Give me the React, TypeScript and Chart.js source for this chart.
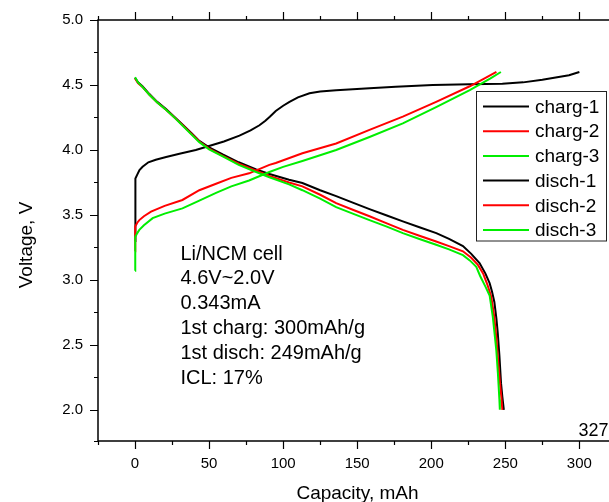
import { useEffect, useRef } from 'react';
import { Chart, registerables } from 'chart.js';

Chart.register(...registerables);

// ---- data (capacity mAh, voltage V) ----
const charg1: [number, number][] = [
  [0, 3.3], [0, 3.75], [0.5, 3.78], [1.5, 3.81], [3, 3.845], [5.1, 3.87], [9, 3.905], [14, 3.925],
  [21, 3.945], [30, 3.97], [41, 4.0], [50, 4.03], [60, 4.065], [70.5, 4.11], [78, 4.15], [84, 4.19],
  [88, 4.225], [91, 4.256], [95, 4.3], [100, 4.34], [104.3, 4.37], [110, 4.405], [117.8, 4.436],
  [125, 4.45], [135.8, 4.46], [158.3, 4.475], [176, 4.487], [201, 4.5], [226, 4.505], [248, 4.51],
  [262, 4.52], [275, 4.54], [285, 4.56], [293, 4.575], [300, 4.6],
];
const charg2: [number, number][] = [
  [0, 3.22], [0, 3.35], [0.3, 3.41], [1.5, 3.44], [2.9, 3.46], [6, 3.49], [10.8, 3.525], [20, 3.57],
  [32, 3.615], [43.4, 3.69], [54.7, 3.74], [65, 3.785], [77, 3.82], [90.7, 3.885], [95, 3.9],
  [113, 3.975], [135.8, 4.05], [158.3, 4.154], [180.8, 4.256], [203.3, 4.37], [226, 4.49],
  [236, 4.55], [244, 4.6],
];
const charg3: [number, number][] = [
  [0, 3.07], [0, 3.2], [0.3, 3.33], [1.5, 3.36], [2.9, 3.385], [6, 3.42], [11.9, 3.475], [20, 3.51],
  [32, 3.55], [43.4, 3.61], [54.7, 3.67], [65, 3.72], [77, 3.765], [90.7, 3.83], [100, 3.87],
  [113, 3.915], [135.8, 4.0], [158.3, 4.1], [180.8, 4.205], [203.3, 4.33], [226, 4.46],
  [240, 4.55], [247, 4.6],
];
const disch1: [number, number][] = [
  [0, 4.555], [2, 4.52], [5, 4.49], [9.7, 4.43], [15, 4.37], [20.9, 4.315], [27, 4.25], [32.2, 4.195],
  [38, 4.13], [43.4, 4.07], [50, 4.02], [59.2, 3.965], [70, 3.905], [81.8, 3.85], [90.7, 3.815],
  [104, 3.77], [113, 3.745], [125, 3.69], [135.8, 3.645], [147, 3.595], [158.3, 3.545], [170, 3.495],
  [180.8, 3.45], [192, 3.405], [203.4, 3.36], [212, 3.315], [221.4, 3.26], [227, 3.2], [232.6, 3.13],
  [236.5, 3.05], [239.4, 2.975], [241, 2.91], [242.6, 2.83], [244, 2.7], [244.9, 2.59], [246, 2.42],
  [247.1, 2.205], [248, 2.1], [249, 2.0],
];
const disch2: [number, number][] = [
  [0, 4.55], [2, 4.515], [5, 4.485], [9.7, 4.425], [15, 4.365], [20.9, 4.31], [27, 4.245], [32.2, 4.19],
  [38, 4.125], [43.4, 4.065], [50, 4.01], [59.2, 3.955], [70, 3.895], [81.8, 3.84], [90.7, 3.8],
  [104, 3.75], [113, 3.72], [125, 3.655], [135.8, 3.59], [147, 3.54], [158.3, 3.49], [170, 3.435],
  [180.8, 3.385], [192, 3.34], [203.3, 3.295], [212, 3.26], [221.4, 3.22], [227, 3.17], [231.5, 3.115],
  [235, 3.05], [238, 2.96], [240.5, 2.87], [242.5, 2.72], [244, 2.55], [245, 2.4], [246.3, 2.22],
  [247.3, 2.1], [248, 2.0],
];
const disch3: [number, number][] = [
  [0, 4.56], [2, 4.52], [5, 4.485], [9.7, 4.425], [15, 4.365], [20.9, 4.31], [27, 4.245], [32.2, 4.185],
  [38, 4.12], [43.4, 4.06], [50, 4.005], [59.2, 3.95], [70, 3.885], [81.8, 3.83], [90.7, 3.79],
  [104, 3.735], [113, 3.69], [125, 3.625], [135.8, 3.56], [147, 3.51], [158.3, 3.46], [170, 3.41],
  [180.8, 3.36], [192, 3.315], [203.3, 3.27], [212, 3.235], [221.4, 3.19], [226, 3.15], [230.4, 3.1],
  [233, 3.03], [236.5, 2.95], [239.4, 2.88], [241.5, 2.72], [243, 2.56], [243.9, 2.46], [245, 2.28],
  [246, 2.08], [246.3, 2.0],
];

const seriesNames = ['charg-1', 'charg-2', 'charg-3', 'disch-1', 'disch-2', 'disch-3'];
const seriesColors = ['#000000', '#ff0000', '#00ee00', '#000000', '#ff0000', '#00ee00'];
const seriesData = [charg1, charg2, charg3, disch1, disch2, disch3];
const seriesOrder = [2, 1, 0, 2, 1, 0];

const noteLines = [
  'Li/NCM cell',
  '4.6V~2.0V',
  '0.343mA',
  '1st charg: 300mAh/g',
  '1st disch: 249mAh/g',
  'ICL: 17%',
];
const cornerLabel = '327';
const xTitle = 'Capacity, mAh';
const yTitle = 'Voltage, V';

const X_MIN = -25;
const X_MAX = 320;
const X_STEP = 25;
const Y_MIN = 1.76;
const Y_MAX = 5.0;
const Y_STEP = 0.25;

const FONT = '"Liberation Sans", Arial, sans-serif';

const decorPlugin = {
  id: 'decor',
  afterDraw(chart: any) {
    const { ctx, chartArea, scales } = chart;
    const xs = scales.x;
    const ys = scales.y;
    const { left, right, top, bottom } = chartArea;
    ctx.save();
    // frame
    ctx.strokeStyle = '#000';
    ctx.lineWidth = 1.5;
    ctx.beginPath();
    ctx.moveTo(right + 2, top);
    ctx.lineTo(left, top);
    ctx.lineTo(left, bottom);
    ctx.lineTo(right + 2, bottom);
    ctx.stroke();
    // ticks
    ctx.lineWidth = 1.2;
    ctx.beginPath();
    for (let v = X_MIN; v <= X_MAX + 1e-9; v += X_STEP) {
      const major = Math.abs(v % 50) < 1e-6;
      const len = major ? 8 : 4;
      const px = Math.round(xs.getPixelForValue(v)) + 0.5;
      ctx.moveTo(px, bottom);
      ctx.lineTo(px, bottom + len);
      ctx.moveTo(px, top);
      ctx.lineTo(px, top - len);
    }
    for (let v = 1.75; v <= Y_MAX + 1e-9; v += Y_STEP) {
      const major = Math.abs((v * 2) - Math.round(v * 2)) < 1e-6;
      const len = major ? 8 : 4;
      let py = ys.getPixelForValue(Math.max(v, Y_MIN));
      py = Math.round(py) + 0.5;
      ctx.moveTo(left, py);
      ctx.lineTo(left - len, py);
    }
    ctx.stroke();

    // legend
    ctx.fillStyle = '#fff';
    ctx.fillRect(477, 92, 130, 149);
    ctx.strokeStyle = '#222';
    ctx.lineWidth = 1;
    ctx.strokeRect(476.5, 91.5, 130, 149.5);
    ctx.font = `19px ${FONT}`;
    ctx.textBaseline = 'middle';
    ctx.textAlign = 'left';
    seriesNames.forEach((name, i) => {
      const y = 106.5 + i * 24.7;
      ctx.strokeStyle = seriesColors[i];
      ctx.lineWidth = 2;
      ctx.beginPath();
      ctx.moveTo(483, y);
      ctx.lineTo(529, y);
      ctx.stroke();
      ctx.fillStyle = '#000';
      ctx.fillText(name, 535, y + 1);
    });

    // notes
    ctx.font = `20px ${FONT}`;
    ctx.textBaseline = 'alphabetic';
    ctx.fillStyle = '#000';
    noteLines.forEach((t, i) => {
      ctx.fillText(t, 180.5, 259.5 + i * 24.9);
    });

    // corner label
    ctx.font = `18px ${FONT}`;
    ctx.textAlign = 'right';
    ctx.fillText(cornerLabel, 608.5, 436);

    // axis titles
    ctx.font = `19px ${FONT}`;
    ctx.textAlign = 'center';
    ctx.fillText(xTitle, 357.5, 499);
    ctx.save();
    ctx.translate(32, 245);
    ctx.rotate(-Math.PI / 2);
    ctx.fillText(yTitle, 0, 0);
    ctx.restore();

    ctx.restore();
  },
};

export default function App() {
  const ref = useRef<HTMLCanvasElement | null>(null);
  useEffect(() => {
    if (!ref.current) return;
    Chart.defaults.color = '#000';
    const chart = new Chart(ref.current, {
      type: 'scatter',
      data: {
        datasets: seriesData.map((d, i) => ({
          label: seriesNames[i],
          data: d.map(([x, y]) => ({ x, y })),
          borderColor: seriesColors[i],
          backgroundColor: seriesColors[i],
          borderWidth: 2,
          pointRadius: 0,
          showLine: true,
          tension: 0,
          order: seriesOrder[i],
        })),
      },
      options: {
        animation: false,
        responsive: false,
        devicePixelRatio: 1,
        layout: { padding: { top: 20, left: 0, right: 0, bottom: 0 } },
        plugins: { legend: { display: false }, tooltip: { enabled: false } },
        scales: {
          x: {
            type: 'linear',
            min: X_MIN,
            max: X_MAX,
            afterFit: (s: any) => {
              s.height = 61;
              s.paddingLeft = 0;
              s.paddingRight = 0;
              s.paddingTop = 0;
              s.paddingBottom = 0;
            },
            border: { display: false },
            grid: { display: true, drawOnChartArea: false, drawTicks: false, color: 'rgba(0,0,0,0)' },
            ticks: {
              stepSize: X_STEP,
              includeBounds: false,
              autoSkip: false,
              maxRotation: 0,
              padding: 14,
              color: '#000',
              font: { family: FONT, size: 15 },
              callback: (v: any) => (Math.abs(Number(v) % 50) < 1e-6 ? String(Number(v)) : ''),
            },
          },
          y: {
            type: 'linear',
            min: Y_MIN,
            max: Y_MAX,
            afterFit: (s: any) => {
              s.width = 98;
              s.paddingTop = 0;
              s.paddingBottom = 0;
              s.paddingLeft = 0;
              s.paddingRight = 0;
            },
            border: { display: false },
            grid: { display: true, drawOnChartArea: false, drawTicks: false, color: 'rgba(0,0,0,0)' },
            ticks: {
              stepSize: Y_STEP,
              includeBounds: false,
              autoSkip: false,
              padding: 15,
              color: '#000',
              font: { family: FONT, size: 15 },
              callback: (v: any) => {
                const n = Number(v);
                return Math.abs(n * 2 - Math.round(n * 2)) < 1e-6 ? n.toFixed(1) : '';
              },
            },
          },
        },
      },
      plugins: [decorPlugin],
    });
    return () => chart.destroy();
  }, []);
  return (
    <div style={{ position: 'absolute', left: 0, top: 0, width: 609, height: 502, background: '#fff' }}>
      <canvas ref={ref} width={609} height={502} style={{ display: 'block', width: 609, height: 502 }} />
    </div>
  );
}
